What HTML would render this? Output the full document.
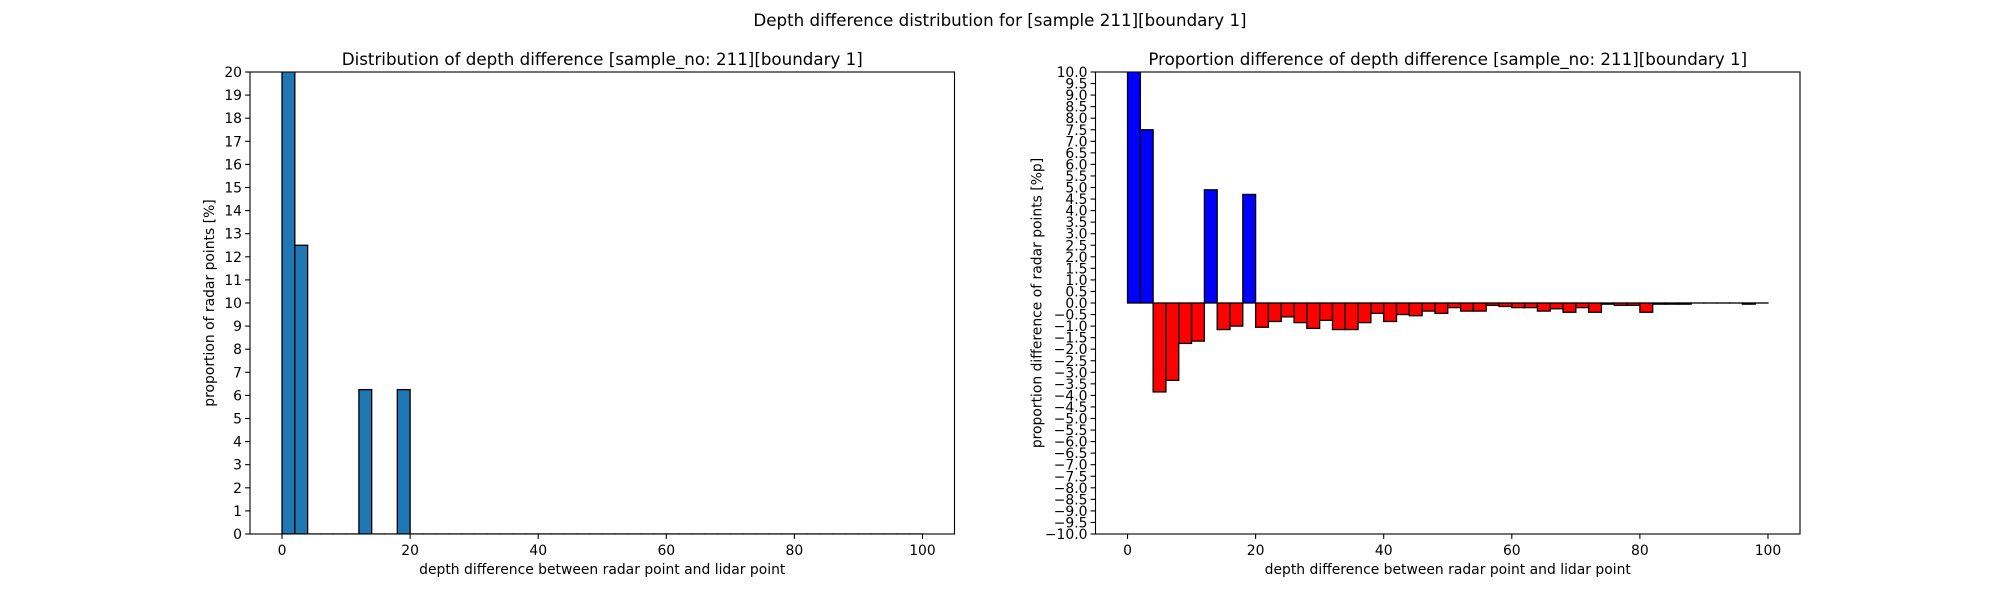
<!DOCTYPE html>
<html><head><meta charset="utf-8"><style>
html,body{margin:0;padding:0;background:#fff;}
svg{display:block;font-family:"DejaVu Sans","Liberation Sans",sans-serif;}
</style></head><body>
<svg id="fig" width="2000" height="600" viewBox="0 0 2000 600" xmlns="http://www.w3.org/2000/svg">
<rect width="2000" height="600" fill="#fff"/>
<text x="1000" y="26" font-size="16.7" text-anchor="middle">Depth difference distribution for [sample 211][boundary 1]</text>
<g id="ax1"></g>
<g id="ax2"></g>
</svg>
<script>
const binEdgesStart = 0;
const binWidth = 2;
const leftValues = [30,12.5,0,0,0,0,6.25,0,0,6.25,0,0,0,0,0,0,0,0,0,0,0,0,0,0,0,0,0,0,0,0,0,0,0,0,0,0,0,0,0,0,0,0,0,0,0,0,0,0,0,0];
const rightValues = [30,7.5,-3.85,-3.35,-1.75,-1.65,4.9,-1.15,-1.0,4.7,-1.05,-0.8,-0.6,-0.85,-1.1,-0.75,-1.15,-1.15,-0.85,-0.45,-0.8,-0.5,-0.55,-0.35,-0.45,-0.2,-0.35,-0.35,-0.1,-0.15,-0.2,-0.2,-0.35,-0.25,-0.4,-0.2,-0.4,-0.05,-0.1,-0.1,-0.4,-0.05,-0.05,-0.05,0,0,0,0,-0.05,0];
const xTicks = [0,20,40,60,80,100];
const leftYTicks = [0,1,2,3,4,5,6,7,8,9,10,11,12,13,14,15,16,17,18,19,20];
const rightYTicks = [];
for (let v = -10; v <= 10.001; v += 0.5) rightYTicks.push(Math.round(v*10)/10);

const NS = "http://www.w3.org/2000/svg";
function mk(parent, tag, attrs, text) {
  const e = document.createElementNS(NS, tag);
  for (const k in attrs) e.setAttribute(k, attrs[k]);
  if (text !== undefined) e.textContent = text;
  parent.appendChild(e);
  return e;
}
function fmt(v, dec) {
  const s = dec ? Math.abs(v).toFixed(1) : String(Math.abs(v));
  return (v < 0 ? "\u2212" : "") + s;
}
function drawAxes(g, L, R, T, B, ymin, ymax, yTicks, dec, values, colorFn, title, ylabel, prefix) {
  const xs = v => L + (v + 5) / 110 * (R - L);
  const ys = v => B - (v - ymin) / (ymax - ymin) * (B - T);
  const clip = mk(g, "clipPath", {id: prefix + "clip"});
  mk(clip, "rect", {x: L, y: T, width: R - L, height: B - T});
  const bars = mk(g, "g", {"clip-path": "url(#" + prefix + "clip)"});
  values.forEach((v, i) => {
    const x0 = xs(binEdgesStart + i * binWidth), x1 = xs(binEdgesStart + (i + 1) * binWidth);
    const y0 = ys(0), y1 = ys(v);
    const r = mk(bars, "rect", {x: x0, y: Math.min(y0, y1), width: x1 - x0, height: Math.max(Math.abs(y1 - y0), 0.01), fill: colorFn(v), stroke: "#000", "stroke-width": 1.3});
    
    
  });
  mk(g, "rect", {x: L, y: T, width: R - L, height: B - T, fill: "none", stroke: "#000", "stroke-width": 1.1,  });
  const xt = mk(g, "g", { });
  xTicks.forEach(t => {
    const x = xs(t);
    mk(xt, "line", {x1: x, x2: x, y1: B, y2: B + 4.9, stroke: "#000", "stroke-width": 1.1});
    mk(xt, "text", {x: x, y: B + 21, "font-size": 13.9, "text-anchor": "middle"}, String(t));
  });
  const yt = mk(g, "g", { });
  yTicks.forEach(t => {
    const y = ys(t);
    mk(yt, "line", {x1: L - 4.9, x2: L, y1: y, y2: y, stroke: "#000", "stroke-width": 1.1});
    mk(yt, "text", {x: L - 8, y: y + 5, "font-size": 13.9, "text-anchor": "end"}, fmt(t, dec));
  });
  mk(g, "text", {x: (L + R) / 2, y: B + 40, "font-size": 13.9, "text-anchor": "middle",  }, "depth difference between radar point and lidar point");
  const yl = dec ? L - 54 : L - 36;
  mk(g, "text", {x: yl, y: (T + B) / 2, "font-size": 13.9, "text-anchor": "middle", transform: "rotate(-90 " + yl + " " + (T + B) / 2 + ")",  }, ylabel);
  mk(g, "text", {x: (L + R) / 2, y: T - 7, "font-size": 16.7, "text-anchor": "middle",  }, title);
}
drawAxes(document.getElementById("ax1"), 250, 954.5, 72, 534, 0, 20, leftYTicks, false, leftValues, v => "#1f77b4",
  "Distribution of depth difference [sample_no: 211][boundary 1]", "proportion of radar points [%]", "left-");
drawAxes(document.getElementById("ax2"), 1095.5, 1800, 72, 534, -10, 10, rightYTicks, true, rightValues, v => v >= 0 ? "#0000ff" : "#ff0000",
  "Proportion difference of depth difference [sample_no: 211][boundary 1]", "proportion difference of radar points [%p]", "right-");
</script>
</body></html>
